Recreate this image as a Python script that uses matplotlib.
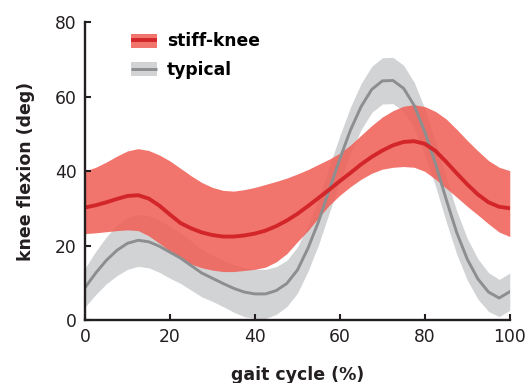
import matplotlib
matplotlib.use("Agg")
import matplotlib.pyplot as plt
from matplotlib.patches import Patch
from matplotlib.lines import Line2D
import numpy as np

# gait cycle sample points (%)
gait = np.arange(0, 100.1, 2.5)

# typical: mean knee flexion and band half-width (deg)
typical_mean = [8.7, 12.6, 16.0, 18.7, 20.6, 21.4, 21.0, 19.8, 18.2, 16.6,
                14.6, 12.6, 11.2, 9.8, 8.5, 7.5, 7.0, 7.0, 7.9, 9.8,
                13.4, 19.3, 26.5, 35.0, 43.3, 51.0, 57.3, 61.9, 64.2, 64.3,
                62.2, 57.6, 50.5, 42.0, 32.5, 23.5, 16.3, 11.0, 7.5, 5.9, 7.6]
typical_sd = [5.2, 5.8, 6.3, 6.8, 7.0, 7.0, 7.0, 7.0, 7.0, 6.8,
              6.6, 6.4, 6.2, 6.2, 6.4, 6.6, 6.6, 6.6, 6.4, 6.2,
              6.2, 6.2, 6.2, 6.2, 6.2, 6.2, 6.2, 6.2, 6.2, 6.2,
              6.2, 6.2, 6.2, 6.0, 6.0, 5.8, 5.6, 5.4, 5.2, 5.0, 5.0]

# stiff-knee: mean with upper / lower band edges (deg)
stiff_mean = [30.2, 30.8, 31.6, 32.5, 33.3, 33.5, 32.6, 30.7, 28.3, 26.0,
              24.6, 23.5, 22.8, 22.4, 22.4, 22.7, 23.2, 24.0, 25.2, 26.7,
              28.5, 30.6, 32.8, 35.0, 37.3, 39.5, 41.8, 43.8, 45.5, 46.9,
              47.8, 48.0, 47.3, 45.4, 42.5, 39.4, 36.4, 33.7, 31.6, 30.4, 30.0]
stiff_upper = [40.0, 41.0, 42.4, 44.0, 45.4, 46.0, 45.5, 44.3, 42.7, 40.7,
               38.7, 36.9, 35.6, 34.8, 34.6, 35.0, 35.6, 36.4, 37.2, 38.1,
               39.2, 40.4, 41.8, 43.2, 44.8, 47.0, 49.6, 52.2, 54.5, 56.2,
               57.4, 57.8, 57.3, 56.0, 54.0, 51.2, 48.2, 45.4, 42.8, 41.0, 40.1]
stiff_lower = [23.2, 23.4, 23.7, 24.0, 24.2, 24.0, 22.6, 20.6, 18.5, 16.6,
               15.0, 14.0, 13.4, 13.0, 13.0, 13.3, 13.6, 14.2, 15.6, 17.8,
               21.0, 24.0, 27.5, 30.8, 33.5, 35.8, 37.8, 39.4, 40.5, 41.0,
               41.2, 41.0, 39.9, 37.8, 35.4, 33.0, 30.5, 28.2, 25.8, 23.6, 22.4]

x_ticks = [0, 20, 40, 60, 80, 100]
y_ticks = [0, 20, 40, 60, 80]

ink = '#231f20'
gray_band = '#d1d3d5'
gray_line = '#8d8e90'
red_band = '#f05d54'
red_line = '#d3262a'

plt.rcParams['font.family'] = ['DejaVu Sans']

fig = plt.figure(figsize=(5.25, 3.83), dpi=100)
ax = fig.add_axes([0.162, 0.1645, 0.809, 0.778])

tm = np.array(typical_mean)
ts = np.array(typical_sd)
ax.fill_between(gait, tm - ts, tm + ts, color=gray_band, linewidth=0)
ax.plot(gait, tm, color=gray_line, linewidth=2.1, solid_joinstyle='round')
ax.fill_between(gait, stiff_lower, stiff_upper, color=red_band, alpha=0.85,
                linewidth=0)
ax.plot(gait, stiff_mean, color=red_line, linewidth=2.8,
        solid_joinstyle='round')

ax.set_xlim(0, 100)
ax.set_ylim(0, 80)
ax.set_xticks(x_ticks)
ax.set_yticks(y_ticks)
for side in ['top', 'right']:
    ax.spines[side].set_visible(False)
for side in ['left', 'bottom']:
    ax.spines[side].set_linewidth(1.7)
    ax.spines[side].set_color(ink)
ax.tick_params(direction='in', length=4, width=1.5, colors=ink,
               labelsize=12.3, pad=6)

ax.set_xlabel('gait cycle (%)', fontsize=12.5, fontweight='bold', color=ink,
              labelpad=14)
ax.set_ylabel('knee flexion (deg)', fontsize=12.5, fontweight='bold',
              color=ink, labelpad=14)

handles = [
    (Patch(facecolor=red_band, alpha=0.85, linewidth=0),
     Line2D([], [], color=red_line, linewidth=2.8, solid_capstyle='butt')),
    (Patch(facecolor=gray_band, linewidth=0),
     Line2D([], [], color=gray_line, linewidth=2.1, solid_capstyle='butt')),
]
ax.legend(handles, ['stiff-knee', 'typical'], loc='upper left',
          bbox_to_anchor=(0.108, 0.965), borderaxespad=0, borderpad=0,
          frameon=False, handlelength=1.52, handleheight=0.88,
          handletextpad=0.58, labelspacing=0.62,
          prop={'weight': 'bold', 'size': 12.3})

fig.savefig('out.png', dpi=100)
